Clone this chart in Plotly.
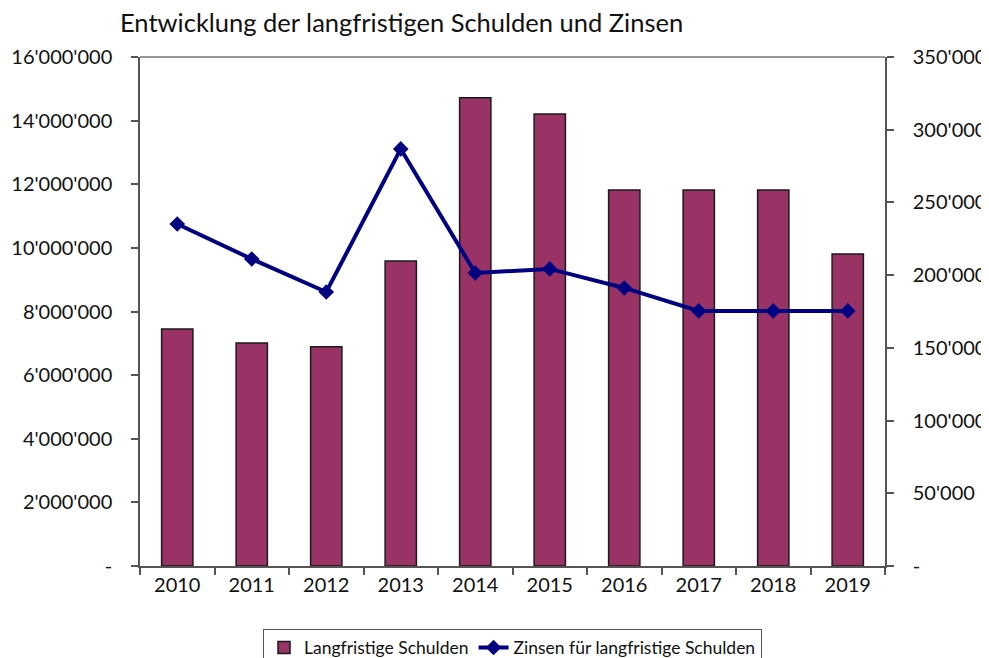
import plotly.graph_objects as go

years = ["2010", "2011", "2012", "2013", "2014", "2015", "2016", "2017", "2018", "2019"]
schulden = [7450000, 7010000, 6890000, 9590000, 14720000, 14210000, 11820000, 11820000, 11820000, 9810000]
zinsen = [235200, 211100, 188400, 286800, 201500, 204300, 191200, 175400, 175400, 175400]

left_tickvals = [0, 2000000, 4000000, 6000000, 8000000, 10000000, 12000000, 14000000, 16000000]
left_ticktext = ["-", "2'000'000", "4'000'000", "6'000'000", "8'000'000", "10'000'000", "12'000'000", "14'000'000", "16'000'000"]
right_tickvals = [0, 50000, 100000, 150000, 200000, 250000, 300000, 350000]
right_ticktext = ["-", "50'000", "100'000", "150'000", "200'000", "250'000", "300'000", "350'000"]

font_family = "Lato, Carlito, Calibri, sans-serif"
axis_col = "#555555"
tick_size = 20

# page body has an 8px default margin: figure is 981x650 placed at (8, 8)
W, H = 981, 650
OFF = 8

fig = go.Figure()
fig.add_trace(go.Bar(
    x=years, y=schulden, name="Langfristige Schulden",
    marker=dict(color="#993366", line=dict(color="#1a1a1a", width=1.5)),
    yaxis="y",
))
fig.add_trace(go.Scatter(
    x=years, y=zinsen, name="Zinsen für langfristige Schulden",
    mode="lines+markers",
    line=dict(color="#000080", width=4),
    marker=dict(symbol="diamond", size=12, color="#000080"),
    yaxis="y2",
))

common_inside = dict(showline=False, ticks="inside", ticklen=6, tickcolor=axis_col, tickwidth=1.5,
                     showticklabels=False, showgrid=False, zeroline=False)

fig.update_layout(
    width=W, height=H,
    margin=dict(l=140 - OFF, r=989 - 885, t=57 - OFF, b=OFF + H - 566, autoexpand=False),
    paper_bgcolor="white", plot_bgcolor="white",
    font=dict(family=font_family, size=tick_size, color="#111111"),
    title=dict(text="Entwicklung der langfristigen Schulden und Zinsen",
               x=(120 - OFF) / W, xanchor="left", xref="container",
               y=1 - (23 - OFF) / H, yanchor="middle", yref="container",
               font=dict(size=25.5, color="#111111", family=font_family)),
    bargap=0.58,
    showlegend=True,
    legend=dict(orientation="h", x=0.5, xanchor="center", y=-0.123, yanchor="top",
                bordercolor=axis_col, borderwidth=1, font=dict(size=17.5),
                itemwidth=30, tracegroupgap=0),
    xaxis=dict(
        type="category", range=[-0.5, len(years) - 0.5],
        showline=True, linecolor=axis_col, linewidth=1.5,
        ticks="outside", ticklen=7, tickcolor=axis_col, tickwidth=1.5, tickson="boundaries",
        showgrid=False, tickfont=dict(size=tick_size), automargin=False,
    ),
    xaxis2=dict(overlaying="x", range=[-0.5, len(years) - 0.5],
                tickvals=[i - 0.5 for i in range(len(years) + 1)],
                side="bottom", **common_inside),
    yaxis=dict(
        range=[0, 16000000], tickvals=left_tickvals, ticktext=left_ticktext,
        showline=True, linecolor=axis_col, linewidth=1.5,
        ticks="outside", ticklen=7, tickcolor=axis_col, tickwidth=1.5,
        showgrid=False, zeroline=False, ticklabelstandoff=15, automargin=False,
        tickfont=dict(size=tick_size),
    ),
    yaxis2=dict(
        range=[0, 350000], tickvals=right_tickvals, ticktext=right_ticktext,
        overlaying="y", side="right",
        showline=True, linecolor=axis_col, linewidth=1.5,
        ticks="outside", ticklen=7, tickcolor=axis_col, tickwidth=1.5,
        showgrid=False, zeroline=False, ticklabelstandoff=15, automargin=False,
        tickfont=dict(size=tick_size),
    ),
    yaxis3=dict(overlaying="y", side="left", range=[0, 16000000], tickvals=left_tickvals, **common_inside),
    yaxis4=dict(overlaying="y", side="right", range=[0, 350000], tickvals=right_tickvals, **common_inside),
    shapes=[dict(type="line", xref="paper", yref="paper", x0=0, x1=1, y0=1, y1=1,
                 line=dict(color="#777777", width=1.5))],
)

fig.write_html("out.html")
